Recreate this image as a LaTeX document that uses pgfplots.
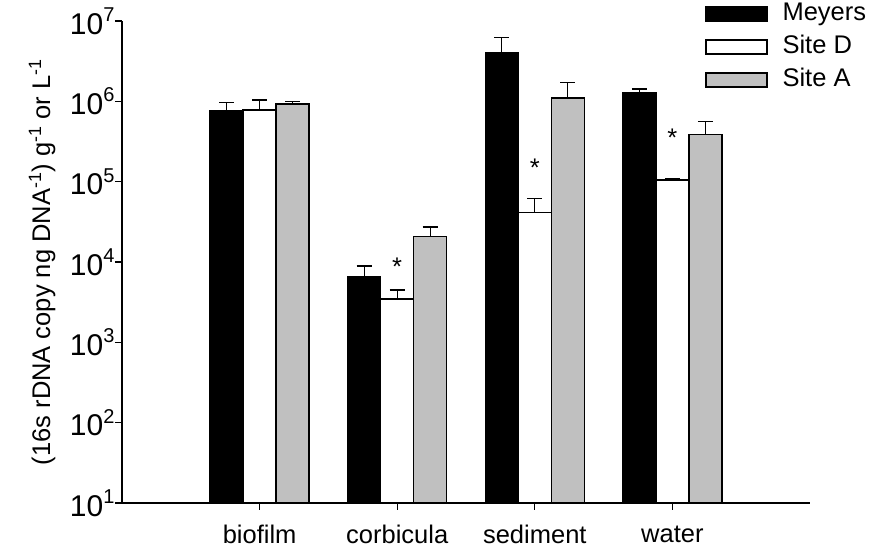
\documentclass[border=0pt]{standalone}
\usepackage{fontspec}
\setmainfont{Liberation Sans}
\usepackage{pgfplots}
\usepackage{pgfplotstable}
\pgfplotsset{compat=1.18}

\definecolor{siteagray}{RGB}{192,192,192}

% power-of-ten tick label with a raised exponent
\newcommand\dec[1]{10\raisebox{0.42em}{\fontsize{20}{20}\selectfont #1}}

% mean and upper error (absolute) per sample type
\pgfplotstableread{
x y err
0 7.6e5 2.0e5
1 6.5e3 2.4e3
2 4.05e6 2.15e6
3 1.29e6 1.4e5
}\meyers
\pgfplotstableread{
x y err
0 7.8e5 2.6e5
1 3.47e3 1.03e3
2 4.12e4 2.08e4
3 1.05e5 5e3
}\sited
\pgfplotstableread{
x y err
0 9.3e5 7e4
1 2.06e4 6.7e3
2 1.1e6 6e5
3 3.9e5 1.7e5
}\sitea

\begin{document}
\begin{tikzpicture}[font=\fontsize{25.5}{30}\selectfont]
\useasboundingbox (-122pt,-51pt) rectangle (748pt,503pt);
\begin{axis}[
  scale only axis, width=688pt, height=482pt,
  at={(0,0)}, anchor=south west,
  ymode=log, ymin=10, ymax=1e7, log origin=infty,
  xmin=-1, xmax=4,
  axis x line*=bottom, axis y line*=left,
  axis line style={line width=1.3pt, -},
  xtick={0,1,2,3},
  xticklabels={biofilm,corbicula,sediment,water},
  xticklabel style={yshift=-12pt},
  ytick={1e1,1e2,1e3,1e4,1e5,1e6,1e7},
  yticklabels={\dec{1},\dec{2},\dec{3},\dec{4},\dec{5},\dec{6},\dec{7}},
  yticklabel style={font=\fontsize{30}{32}\selectfont, xshift=3pt},
  yminorticks=false,
  tick align=outside, major tick length=7pt,
  tick style={line width=1.3pt, black},
  ylabel={(16s rDNA copy ng DNA\textsuperscript{-1}) g\textsuperscript{-1} or L\textsuperscript{-1}},
  ylabel style={at={(rel axis cs:-0.116,0.5)}, anchor=center},
  ybar, bar width=33pt,
  every axis plot/.append style={line width=1.3pt},
  error bars/error bar style={line width=1.3pt, black},
  error bars/error mark options={rotate=90, mark size=7.5pt, line width=1.3pt, black},
  legend cell align=left,
  legend image code/.code={\draw[#1, line width=1.3pt] (0pt,-7pt) rectangle (61pt,7pt);},
  legend style={draw=none, fill=none, at={(0.8474,1.041)}, anchor=north west,
    inner sep=0pt, row sep=8pt, column sep=14pt,
    nodes={inner sep=1pt, text height=18pt, text depth=5pt}},
]
\addplot[bar shift=-33pt, draw=black, fill=black,
  error bars/.cd, y dir=plus, y explicit]
  table[x=x, y=y, y error=err]{\meyers};
\addlegendentry{Meyers}
\addplot[bar shift=0pt, draw=black, fill=white,
  error bars/.cd, y dir=plus, y explicit]
  table[x=x, y=y, y error=err]{\sited};
\addlegendentry{Site D}
\addplot[bar shift=33pt, draw=black, fill=siteagray,
  error bars/.cd, y dir=plus, y explicit]
  table[x=x, y=y, y error=err]{\sitea};
\addlegendentry{Site A}
% significance markers above Site D
\addplot[only marks, mark=none, forget plot,
  nodes near coords={*},
  every node near coord/.style={anchor=center, yshift=-5pt, inner sep=0pt}]
  coordinates {(1,1.0e4) (2,1.71e5) (3,4.1e5)};
\end{axis}
\end{tikzpicture}
\end{document}
